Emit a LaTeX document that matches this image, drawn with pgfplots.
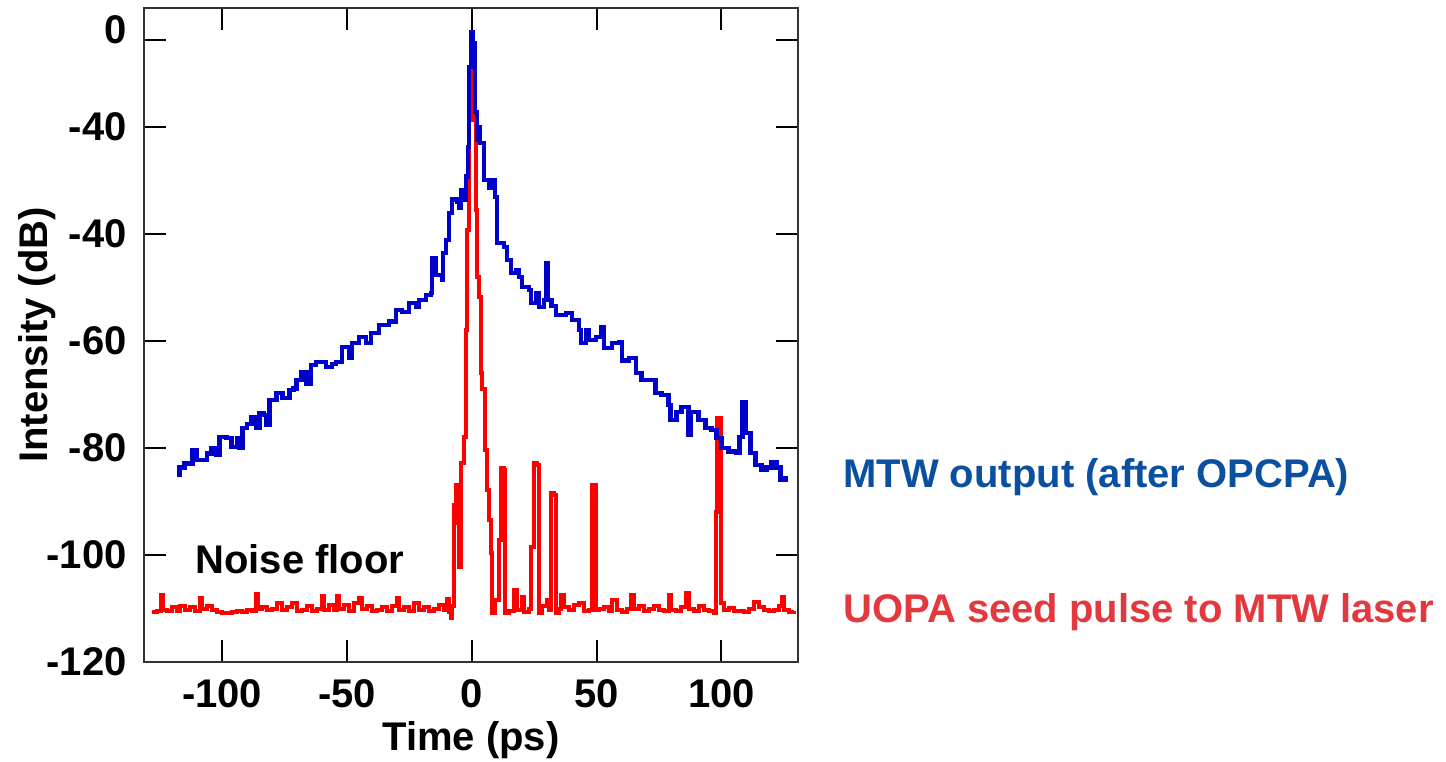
\documentclass[border=0pt]{standalone}
\usepackage{pgfplots}
\pgfplotsset{compat=1.18}
\usepackage{fontspec}
\setmainfont{Liberation Sans}
\definecolor{curveblue}{HTML}{0000CC}
\definecolor{curvered}{HTML}{FF0000}
\definecolor{txtblue}{HTML}{0B4FA0}
\definecolor{txtred}{HTML}{E2383E}
\newcommand{\bigbf}{\fontsize{20}{24}\selectfont\bfseries}
\begin{document}
\begin{tikzpicture}
\useasboundingbox (-72pt,-49.5pt) rectangle (651pt,331pt);
\begin{axis}[
  at={(0,0)}, anchor=south west,
  scale only axis, width=327pt, height=327pt,
  xmin=-131.3, xmax=130.7, ymin=-120, ymax=2.24,
  clip=false,
  axis line style={draw=black!80, line width=1pt},
  tick align=inside, tick style={black, line width=1pt},
  major tick length=11pt,
  xtick={-100,-50,0,50,100},
  xticklabels={-100,-50,0,50,100},
  ytick={-120,-100,-80,-60,-40,-20,-3.74},
  yticklabels={-120,-100,-80,-60,-40,-40,{\raisebox{5pt}[\height][\depth]{0}}},
  /pgf/number format/assume math mode=true,
  xticklabel style={font=\bigbf, anchor=base, inner sep=0pt, yshift=-22.5pt},
  yticklabel style={font=\bigbf, anchor=east, inner sep=0pt, xshift=-8.5pt},
  xlabel={Time (ps)},
  ylabel={Intensity (dB)},
  xlabel style={font=\bigbf, at={(axis description cs:0.5,-0.1346)}, anchor=base, inner sep=0pt},
  ylabel style={font=\bigbf, at={(axis description cs:-0.1468,0.5)}, anchor=base, inner sep=0pt},
]
% UOPA seed pulse (red)
\addplot[const plot, color=curvered, line width=2pt] coordinates {
(-128,-110.7) (-126,-110.5) (-124.5,-107.5) (-123.5,-110.3) (-122,-110.5) (-120,-109.8)
(-118,-110.4) (-117,-109.5) (-115,-110.2) (-113,-109.7) (-111,-110.4) (-109,-108.0)
(-108,-110.0) (-106,-109.5) (-104,-110.3) (-102,-110.6) (-100,-110.8) (-98,-110.8)
(-96,-110.7) (-94,-110.5) (-92,-110.6) (-90,-110.2) (-88,-110.4) (-86.5,-107.2)
(-85.5,-110.0) (-84,-109.8) (-82,-110.3) (-80,-110.0) (-78,-109.0) (-76,-110.2)
(-74,-109.7) (-72,-109.0) (-70,-110.4) (-68,-110.2) (-66,-109.6) (-64,-110.5)
(-62,-110.0) (-60,-107.6) (-59,-110.2) (-57,-109.4) (-55,-110.3) (-54,-107.6)
(-53,-110.0) (-51,-109.3) (-49,-110.4) (-47,-109.0) (-45,-108.0) (-44,-110.1)
(-42,-109.6) (-40,-110.5) (-38,-110.3) (-36,-109.8) (-34,-110.4) (-32,-109.6)
(-30,-108.0) (-29,-110.2) (-27,-109.7) (-25,-110.4) (-23,-109.0) (-21,-110.3)
(-19,-109.8) (-17,-110.5) (-15,-110.0) (-13,-109.4) (-11,-110.3) (-10,-108.2)
(-9,-110.6) (-8.3,-111.8) (-7.8,-109.5)
(-7.1,-90.7) (-6.3,-86.9) (-5.9,-94.0) (-5.1,-102.2) (-4.3,-82.8) (-3.1,-77.9)
(-2.3,-57.9) (-1.9,-39.3) (-1.1,-18.7) (-0.3,-7.5) (0.3,-5.6) (0.9,-11.2)
(1.3,-18.7) (1.7,-35.5) (2.1,-48.0) (2.9,-51.8) (3.7,-66.0) (4.3,-69.0)
(5.3,-80.4) (6.1,-87.9) (6.9,-93.5) (7.7,-99.6) (8.1,-110.8) (9.3,-108.4)
(10.9,-97.2) (11.7,-83.7) (12.9,-84.1) (13.3,-110.8)
(15,-110.5) (17,-106.5) (18,-110.3) (20,-107.9) (21,-110.6) (23,-110.0)
(23.7,-98.5) (24.9,-82.8) (26.1,-83.2) (26.9,-110.8) (28,-109.5) (30,-108.4)
(31,-110.3) (31.7,-88.4) (32.9,-88.8) (33.7,-110.8) (35,-110.0) (35.7,-107.5)
(37,-109.8) (39,-110.3) (41,-109.4) (43,-109.0) (45,-110.5) (47,-110.2)
(48.1,-86.9) (49.7,-87.3) (49.8,-110.3) (51,-110.0) (53,-109.7) (55,-110.5)
(56,-108.4) (58,-110.3) (60,-110.6) (62,-110.0) (63.7,-107.5) (65,-110.1)
(67,-109.6) (69,-110.4) (71,-110.0) (73,-109.5) (75,-110.3) (77,-110.5)
(79,-107.5) (80,-110.2) (82,-110.5) (84,-109.8) (86,-107.1) (87,-110.0)
(89,-110.4) (91,-109.6) (93,-110.3) (95,-110.5) (97,-110.8) (97.7,-91.9)
(98.1,-74.4) (99.7,-74.8) (99.8,-109.0) (101,-110.3) (103,-109.9) (105,-110.5)
(107,-110.4) (109,-110.6) (111,-110.0) (113,-108.8) (115,-109.7) (117,-110.3)
(119,-110.5) (121,-110.2) (123,-109.5) (124.1,-107.9) (125,-110.3) (127,-110.6)
(129,-110.4)
};
% MTW output (blue)
\addplot[const plot, color=curveblue, line width=2.25pt] coordinates {
(-117.1,-85.4) (-117.1,-83.6) (-115.1,-82.8) (-113.5,-83.0) (-111.9,-80.4) (-110.3,-82.2)
(-107.9,-82.2) (-106.0,-81.0) (-104.3,-80.0) (-102.3,-81.3) (-101.1,-77.9) (-98.3,-78.1)
(-96.3,-79.8) (-93.9,-78.1) (-93.1,-80.0) (-91.9,-76.3) (-90.0,-75.5) (-88.3,-74.2)
(-86.3,-76.3) (-85.1,-73.5) (-83.5,-73.8) (-82.3,-75.7) (-81.1,-71.0) (-78.3,-69.7)
(-75.9,-70.7) (-73.1,-69.2) (-71.5,-68.9) (-70.3,-67.3) (-68.3,-65.8) (-66.3,-67.9)
(-64.3,-64.5) (-62.3,-63.9) (-58.3,-64.9) (-56.0,-64.3) (-54.3,-63.9) (-51.9,-61.1)
(-49.1,-63.2) (-47.9,-60.4) (-45.1,-59.3) (-42.3,-60.4) (-40.3,-58.5) (-37.1,-57.0)
(-33.1,-56.4) (-30.3,-54.2) (-27.9,-54.6) (-25.1,-52.9) (-22.3,-53.6) (-21.1,-52.3)
(-18.3,-51.4) (-16.3,-51.0) (-15.9,-44.5) (-14.3,-47.7) (-11.9,-48.6) (-11.5,-43.6)
(-10.3,-41.1) (-9.1,-36.1) (-7.9,-33.6) (-5.9,-34.0) (-5.1,-35.1) (-4.3,-31.8)
(-3.1,-33.6) (-2.3,-29.3) (-1.5,-23.7) (-1.1,-8.8) (-0.4,-2.2) (0.5,-4.3)
(1.3,-17.2) (2.1,-22.4) (2.9,-20.0) (3.3,-23.0) (4.9,-29.9) (6.9,-31.4)
(8.1,-29.9) (9.3,-33.1) (10.1,-41.7) (12.9,-42.4) (14.1,-44.9) (15.7,-47.3)
(17.7,-46.7) (18.9,-48.0) (20.1,-49.9) (22.9,-50.5) (23.7,-52.9) (25.7,-51.0)
(26.9,-53.6) (28.9,-52.3) (29.7,-45.4) (30.5,-52.3) (32.0,-53.5) (33.7,-55.1)
(37.7,-54.8) (40.1,-56.1) (42.9,-57.9) (43.7,-60.4) (45.7,-57.9) (46.9,-59.8)
(49.7,-59.3) (51.7,-57.4) (52.9,-61.3) (56.1,-60.4) (58.9,-60.2) (60.1,-63.6)
(62.9,-63.2) (65.7,-66.0) (68.1,-67.3) (71.7,-67.3) (73.7,-69.7) (76.1,-70.1)
(78.9,-72.0) (79.7,-74.8) (82.1,-73.3) (84.1,-72.3) (86.9,-77.6) (87.7,-73.3)
(90.9,-74.8) (93.7,-76.3) (96.1,-76.6) (98.1,-78.1) (100.1,-80.0) (102.9,-80.7)
(106.1,-80.9) (107.3,-77.9) (108.5,-71.4) (109.7,-77.2) (111.7,-80.9) (113.7,-83.2)
(116.1,-84.1) (118.1,-83.6) (120.1,-82.6) (122.1,-83.6) (123.7,-86.0) (125.7,-85.6)
(126.5,-85.6)
};
\node[anchor=base west, inner sep=0pt, font=\bigbf] at (axis cs:-110.9,-103.4) {Noise floor};
\node[anchor=base west, inner sep=0pt, font=\bigbf, text=txtblue] at (axis cs:148.7,-87.3) {MTW output (after OPCPA)};
\node[anchor=base west, inner sep=0pt, font=\bigbf, text=txtred] at (axis cs:148.7,-112.7) {UOPA seed pulse to MTW laser};
\end{axis}
\end{tikzpicture}
\end{document}
